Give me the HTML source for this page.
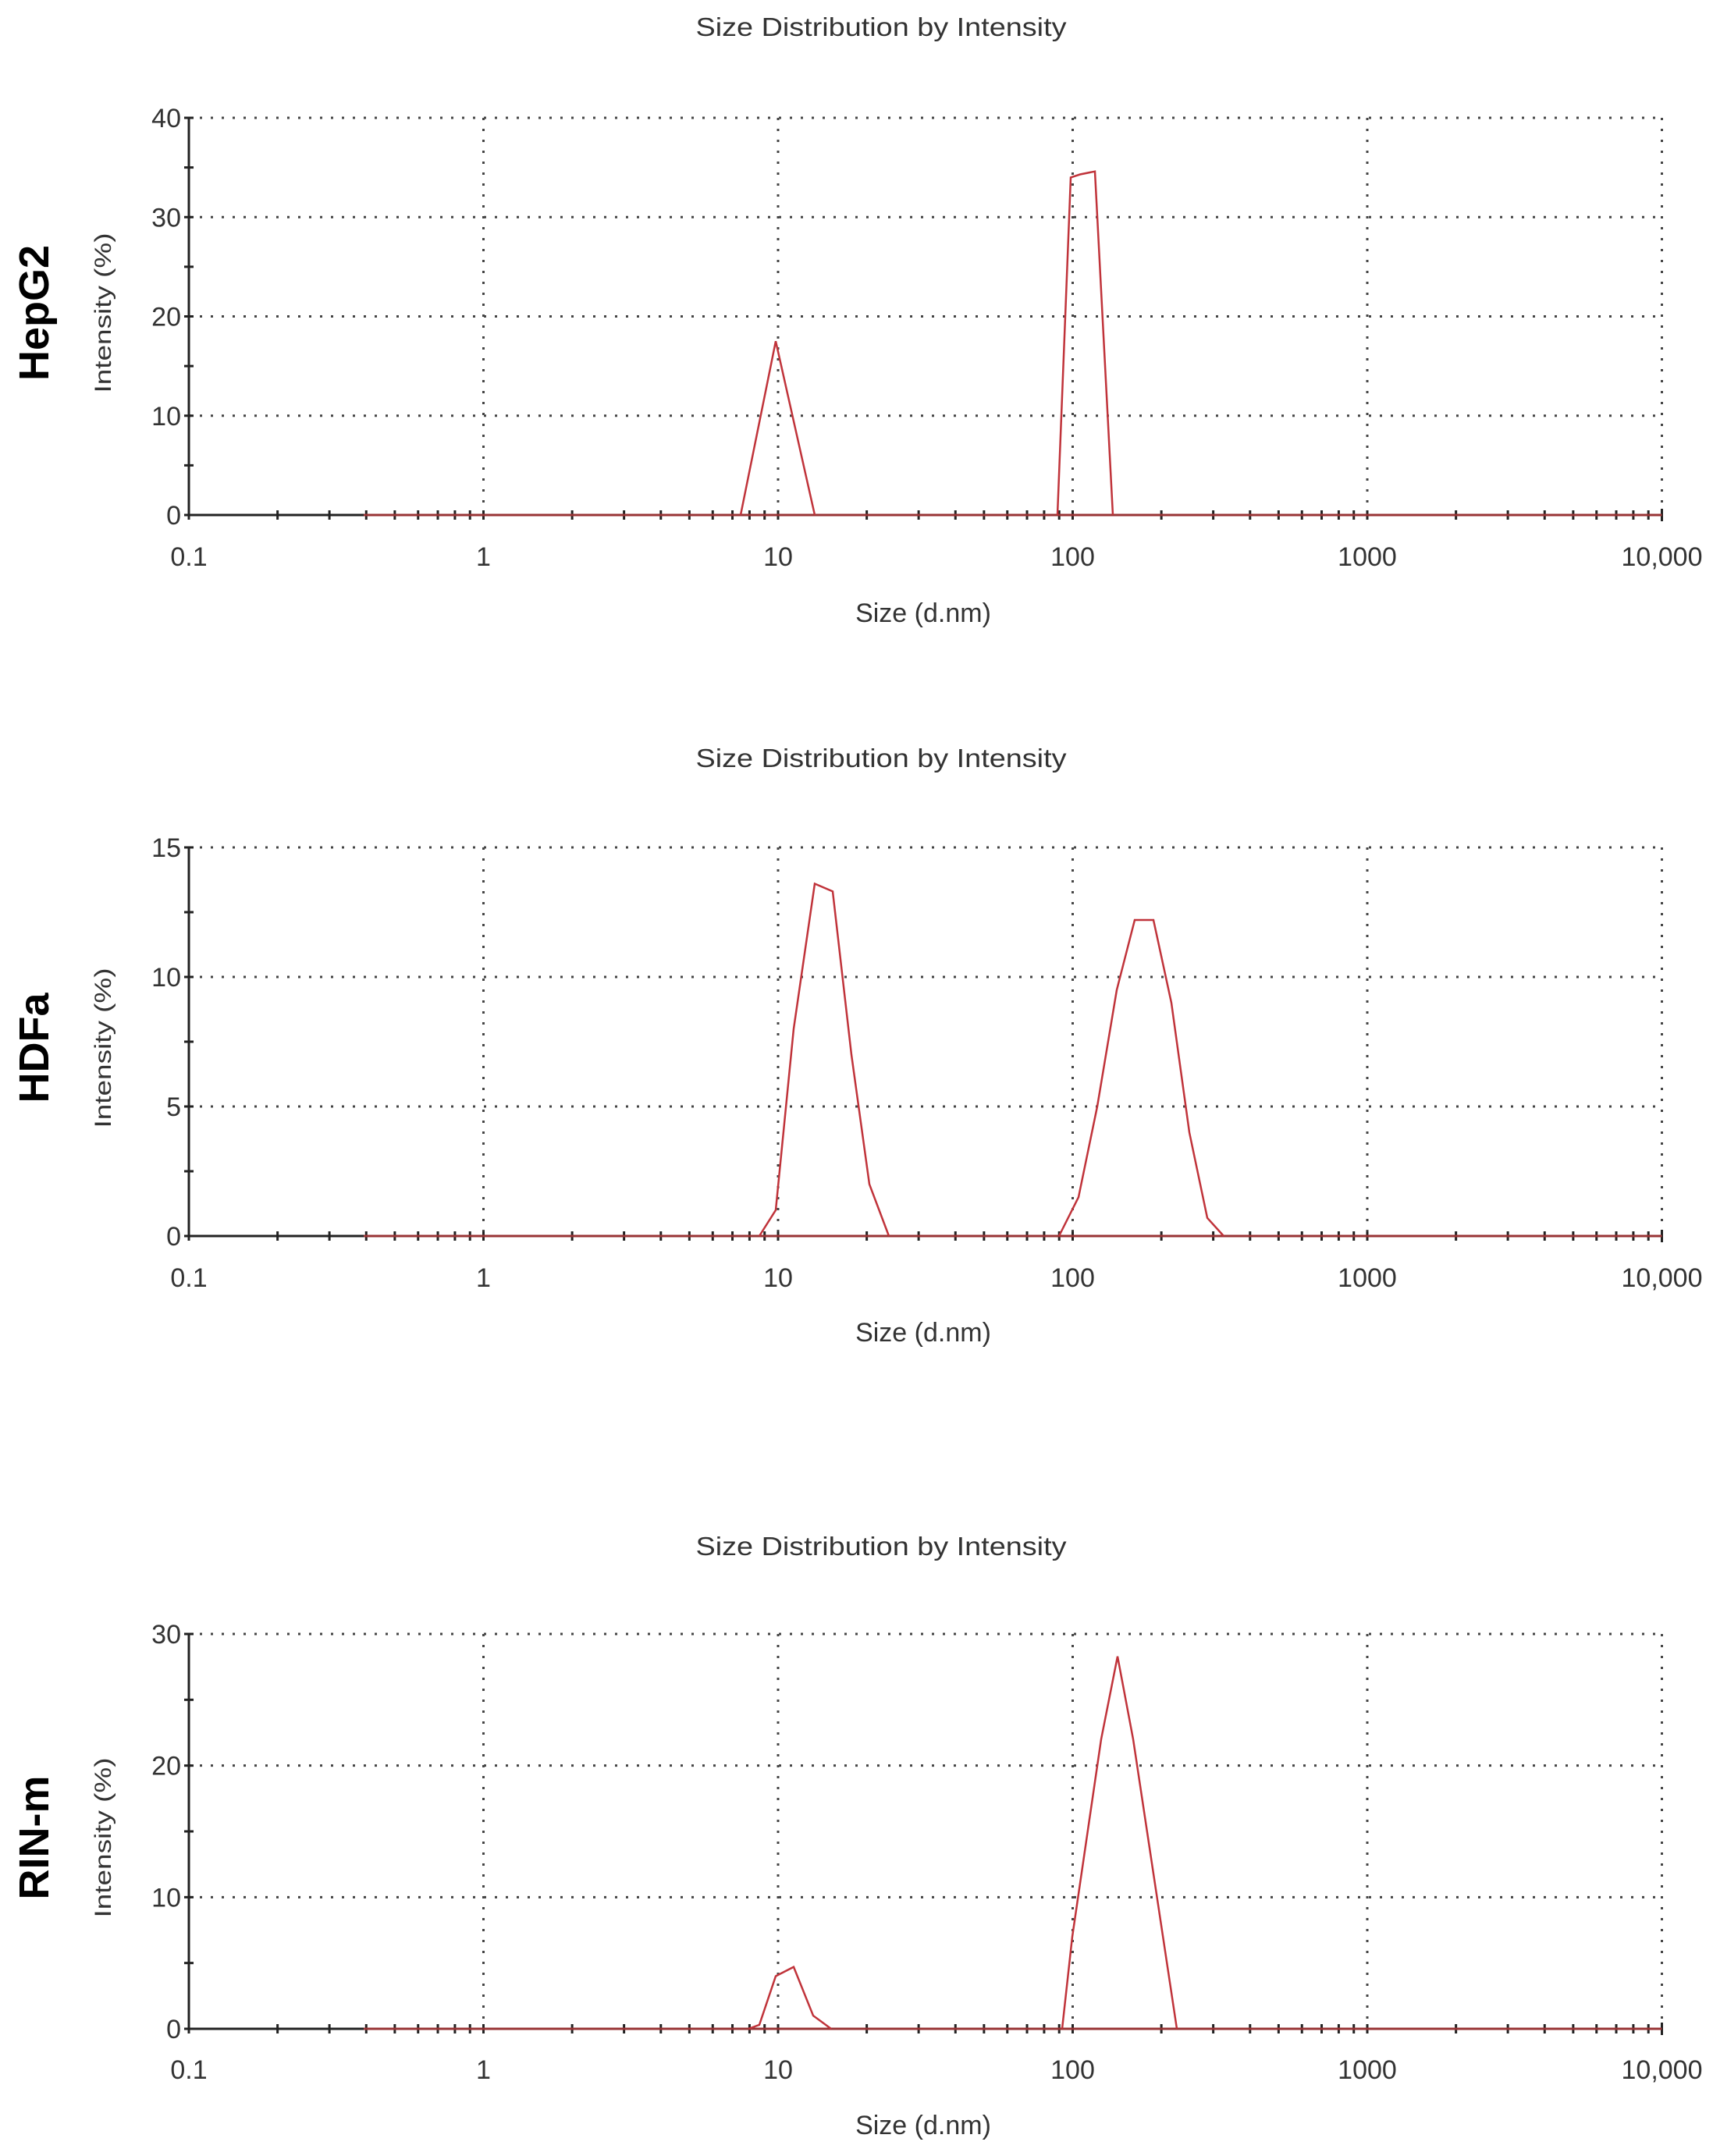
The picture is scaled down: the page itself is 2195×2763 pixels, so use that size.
<!DOCTYPE html>
<html><head><meta charset="utf-8"><style>
html,body{margin:0;padding:0;background:#fff;}
svg{display:block;}
text{font-family:"Liberation Sans Narrow","Liberation Sans",sans-serif;fill:#333;}
</style></head><body>
<svg id="s" width="2195" height="2763" xmlns="http://www.w3.org/2000/svg"></svg>
<script>
const S=document.getElementById('s');let h='';
const X0=242,DEC=377.5;
function lx(v){return X0+(Math.log10(v)+1)*DEC;}
const charts=[
 {y0:660,ytop:151,max:40,step:10,minor:5,title:35,tick:713,xl:785,name:'HepG2',ny:401,
  pk:[[949,0],[994,17.5],[1044,0],null,[1355,0],[1372,34],[1384,34.3],[1403,34.6],[1426,0]]},
 {y0:1584,ytop:1086,max:15,step:5,minor:2.5,title:972,tick:1637,xl:1707,name:'HDFa',ny:1343,
  pk:[[973,0],[994,1],[1017,8],[1044,13.6],[1067,13.3],[1091,7],[1114,2],[1139,0],null,
      [1357,0],[1382,1.5],[1406,5],[1431,9.5],[1454,12.2],[1478,12.2],[1501,9],[1524,4],[1547,0.7],[1568,0]]},
 {y0:2600,ytop:2094,max:30,step:10,minor:5,title:1982,tick:2652,xl:2723,name:'RIN-m',ny:2355,
  pk:[[959,0],[973,0.3],[994,4],[1017,4.7],[1042,1],[1065,0],null,
      [1361,0],[1374,7],[1411,22],[1432,28.3],[1452,22],[1508,0]]}
];
for(const c of charts){
 const sc=(c.y0-c.ytop)/c.max, Y=v=>c.y0-v*sc, XR=lx(10000);
 h+=`<text x="1129" y="${c.title+11}" font-size="33" text-anchor="middle" textLength="475" lengthAdjust="spacingAndGlyphs">Size Distribution by Intensity</text>`;
 // grid
 for(let v=c.step;v<=c.max;v+=c.step) h+=`<line x1="${X0}" x2="${XR}" y1="${Y(v)}" y2="${Y(v)}" stroke="#444" stroke-width="3" stroke-dasharray="3 11"/>`;
 for(let d=0;d<=4;d++){const x=lx(Math.pow(10,d));h+=`<line x1="${x}" x2="${x}" y1="${c.ytop}" y2="${c.y0}" stroke="#444" stroke-width="3" stroke-dasharray="3 11"/>`;}
 // axes
 h+=`<line x1="${X0}" x2="${X0}" y1="${c.ytop}" y2="${c.y0}" stroke="#222" stroke-width="3"/>`;
 h+=`<line x1="${X0}" x2="${XR}" y1="${c.y0}" y2="${c.y0}" stroke="#222" stroke-width="3"/>`;
 for(let v=0;v<=c.max+0.01;v+=c.minor){h+=`<line x1="${X0-6}" x2="${X0+6}" y1="${Y(v)}" y2="${Y(v)}" stroke="#222" stroke-width="3"/>`;}
 for(let v=0;v<=c.max;v+=c.step) h+=`<text x="${X0-10}" y="${Y(v)+12}" font-size="34" text-anchor="end">${v}</text>`;
 for(let d=-1;d<4;d++)for(let m=1;m<10;m++){const x=lx(m*Math.pow(10,d));h+=`<line x1="${x}" x2="${x}" y1="${c.y0-6}" y2="${c.y0+6}" stroke="#222" stroke-width="3"/>`;}
 h+=`<line x1="${XR}" x2="${XR}" y1="${c.y0-8}" y2="${c.y0+8}" stroke="#222" stroke-width="3"/>`;
 ['0.1','1','10','100','1000','10,000'].forEach((t,i)=>{h+=`<text x="${X0+i*DEC}" y="${c.tick+12}" font-size="34" text-anchor="middle">${t}</text>`;});
 h+=`<text x="1183" y="${c.xl+12}" font-size="34" text-anchor="middle">Size (d.nm)</text>`;
 h+=`<text transform="translate(142,${c.ny}) rotate(-90)" font-size="30" text-anchor="middle" textLength="205" lengthAdjust="spacingAndGlyphs">Intensity (%)</text>`;
 h+=`<text transform="translate(62,${c.ny}) rotate(-90)" font-family="Liberation Sans" font-weight="bold" font-size="54" style="fill:#000;font-family:'Liberation Sans',sans-serif" text-anchor="middle">${c.name}</text>`;
 // series
 h+=`<line x1="466" x2="${XR}" y1="${c.y0}" y2="${c.y0}" stroke="#c0393b" stroke-width="3" opacity="0.75"/>`;
 let seg=[];const segs=[];for(const p of c.pk){if(p===null){segs.push(seg);seg=[];}else seg.push(p);}segs.push(seg);
 for(const s of segs)h+=`<polyline fill="none" stroke="#c0333a" stroke-width="2.5" points="${s.map(p=>p[0]+','+Y(p[1]).toFixed(1)).join(' ')}"/>`;
}
S.innerHTML=h;
</script>
</body></html>
